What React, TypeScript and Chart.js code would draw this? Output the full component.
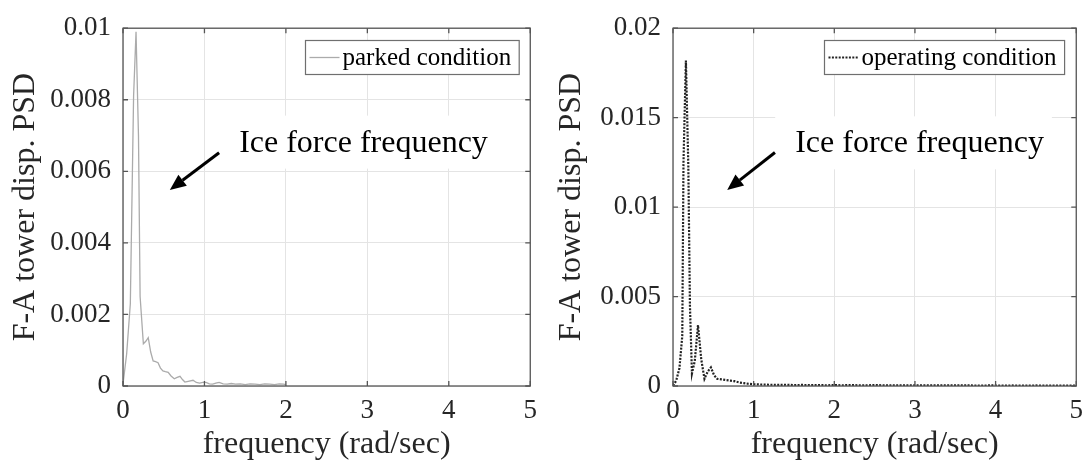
import React, { useEffect, useRef } from 'react';
import { Chart, registerables } from 'chart.js';

Chart.register(...registerables);

// ---------------- data ----------------
const parkedFreq = [0, 0.045, 0.09, 0.13, 0.16, 0.19, 0.21, 0.25, 0.28, 0.31, 0.34, 0.37, 0.40, 0.43, 0.46, 0.49, 0.52, 0.555, 0.59, 0.63, 0.665, 0.70, 0.73, 0.76, 0.80, 0.86, 0.90, 0.94, 0.98, 1.02, 1.06, 1.10, 1.14, 1.18, 1.23, 1.28, 1.33, 1.38, 1.44, 1.50, 1.56, 1.62, 1.68, 1.74, 1.80, 1.86, 1.92, 1.97, 2.00];
const parkedPsd = [0.00005, 0.0009, 0.0023, 0.0081, 0.0099, 0.0070, 0.0025, 0.00118, 0.00125, 0.00135, 0.00095, 0.0007, 0.00068, 0.00065, 0.0005, 0.00042, 0.0004, 0.00038, 0.00028, 0.0002, 0.00024, 0.00027, 0.00018, 0.00011, 0.00013, 0.00016, 0.0001, 0.00008, 0.0001, 0.0001, 0.00006, 0.00005, 0.00008, 0.0001, 0.00006, 0.00005, 0.00007, 0.00005, 0.00006, 0.00004, 0.00006, 0.00005, 0.00004, 0.00006, 0.00005, 0.00004, 0.00006, 0.00005, 0.00004];

const operatingFreq = [0, 0.04, 0.08, 0.115, 0.13, 0.16, 0.19, 0.21, 0.235, 0.27, 0.31, 0.35, 0.39, 0.43, 0.47, 0.51, 0.55, 0.60, 0.66, 0.71, 0.76, 0.82, 0.88, 0.94, 1.00, 1.1, 1.2, 1.3, 1.4, 1.5, 1.6, 1.7, 1.8, 1.9, 2.0, 2.1, 2.2, 2.3, 2.4, 2.5, 2.6, 2.7, 2.8, 2.9, 3.0, 3.1, 3.2, 3.3, 3.4, 3.5, 3.6, 3.7, 3.8, 3.9, 4.0, 4.1, 4.2, 4.3, 4.4, 4.5, 4.6, 4.7, 4.8, 4.9, 5.0];
const operatingPsd = [0.00002, 0.0003, 0.001, 0.0028, 0.0125, 0.0182, 0.0123, 0.0045, 0.0007, 0.0014, 0.0034, 0.0015, 0.0004, 0.0008, 0.00104, 0.0006, 0.0004, 0.00037, 0.00033, 0.0003, 0.00027, 0.0002, 0.00016, 0.00012, 0.0001, 0.00008, 0.00007, 0.00006, 0.00007, 0.00005, 0.00006, 0.00005, 0.00005, 0.00004, 0.00005, 0.00004, 0.00005, 0.00004, 0.00004, 0.00005, 0.00004, 0.00003, 0.00004, 0.00004, 0.00003, 0.00004, 0.00003, 0.00003, 0.00004, 0.00003, 0.00003, 0.00003, 0.00002, 0.00003, 0.00003, 0.00002, 0.00003, 0.00002, 0.00002, 0.00003, 0.00002, 0.00002, 0.00002, 0.00002, 0.00002];

const xTicks = [0, 1, 2, 3, 4, 5];
const xTickLabels = ['0', '1', '2', '3', '4', '5'];
const leftYTicks = [0, 0.002, 0.004, 0.006, 0.008, 0.01];
const leftYTickLabels = ['0', '0.002', '0.004', '0.006', '0.008', '0.01'];
const rightYTicks = [0, 0.005, 0.01, 0.015, 0.02];
const rightYTickLabels = ['0', '0.005', '0.01', '0.015', '0.02'];

const seriesNames = ['parked condition', 'operating condition'];
const xTitle = 'frequency (rad/sec)';
const yTitle = 'F-A tower disp. PSD';
const annotationText = 'Ice force frequency';

// annotation anchors in data units: [freq, psd]
const leftAnnotation = { textAt: [1.426, 0.00655], arrowFrom: [1.18, 0.00652], arrowTo: [0.575, 0.00548] };
const rightAnnotation = { textAt: [1.515, 0.01306], arrowFrom: [1.264, 0.01305], arrowTo: [0.672, 0.01096] };

// ---------------- styling ----------------
const FONT = "'Liberation Serif', 'Times New Roman', serif";
const TEXT_COLOR = '#262626';
const AXIS_COLOR = '#555555';
const GRID_COLOR = '#e4e4e4';

const decorPlugin = {
  id: 'decor',
  beforeDatasetsDraw(chart: any, _args: any, opts: any) {
    const { ctx, scales } = chart;
    const x = scales.x;
    const y = scales.y;
    ctx.save();
    ctx.font = `${opts.annFont}px ${FONT}`;
    const tx = x.getPixelForValue(opts.textAt[0]);
    const ty = y.getPixelForValue(opts.textAt[1]);
    const w = ctx.measureText(opts.text).width;
    ctx.fillStyle = '#ffffff';
    ctx.fillRect(tx - 20, ty - 36, w + 28, 53);
    ctx.fillStyle = '#000000';
    ctx.textAlign = 'left';
    ctx.textBaseline = 'alphabetic';
    ctx.fillText(opts.text, tx, ty);

    const ax0 = x.getPixelForValue(opts.arrowFrom[0]);
    const ay0 = y.getPixelForValue(opts.arrowFrom[1]);
    const ax1 = x.getPixelForValue(opts.arrowTo[0]);
    const ay1 = y.getPixelForValue(opts.arrowTo[1]);
    const ang = Math.atan2(ay1 - ay0, ax1 - ax0);
    const hl = 16;
    const hw = 7;
    const bx = ax1 - hl * Math.cos(ang);
    const by = ay1 - hl * Math.sin(ang);
    ctx.strokeStyle = '#000000';
    ctx.lineWidth = 3;
    ctx.beginPath();
    ctx.moveTo(ax0, ay0);
    ctx.lineTo(bx, by);
    ctx.stroke();
    ctx.beginPath();
    ctx.moveTo(ax1, ay1);
    ctx.lineTo(bx + hw * Math.sin(ang), by - hw * Math.cos(ang));
    ctx.lineTo(bx - hw * Math.sin(ang), by + hw * Math.cos(ang));
    ctx.closePath();
    ctx.fill();
    ctx.restore();
  },
  afterDatasetsDraw(chart: any, _args: any, opts: any) {
    const { ctx, chartArea, scales } = chart;
    const { left, right, top, bottom } = chartArea;
    const x = scales.x;
    const y = scales.y;
    ctx.save();
    ctx.strokeStyle = AXIS_COLOR;
    ctx.lineWidth = 1.3;
    ctx.strokeRect(left, top, right - left, bottom - top);
    const tl = 5;
    ctx.beginPath();
    x.ticks.forEach((t: any) => {
      const px = x.getPixelForValue(t.value);
      ctx.moveTo(px, bottom);
      ctx.lineTo(px, bottom - tl);
      ctx.moveTo(px, top);
      ctx.lineTo(px, top + tl);
    });
    y.ticks.forEach((t: any) => {
      const py = y.getPixelForValue(t.value);
      ctx.moveTo(left, py);
      ctx.lineTo(left + tl, py);
      ctx.moveTo(right, py);
      ctx.lineTo(right - tl, py);
    });
    ctx.stroke();

    // legend box
    const ds = chart.data.datasets[0];
    ctx.font = `${opts.legendFont}px ${FONT}`;
    const tw = ctx.measureText(ds.label).width;
    const padL = 4;
    const sampleW = 30;
    const gap = 3;
    const padR = 8;
    const boxW = padL + sampleW + gap + tw + padR;
    const boxH = 34;
    const lx = Math.round(right - 12 - boxW) + 0.5;
    const ly = Math.round(top + 12) + 0.5;
    ctx.fillStyle = '#ffffff';
    ctx.fillRect(lx, ly, boxW, boxH);
    ctx.strokeStyle = '#6f6f6f';
    ctx.lineWidth = 1.2;
    ctx.strokeRect(lx, ly, boxW, boxH);
    ctx.strokeStyle = ds.borderColor;
    ctx.lineWidth = ds.borderWidth;
    ctx.setLineDash(ds.borderDash || []);
    ctx.beginPath();
    ctx.moveTo(lx + padL, ly + boxH / 2);
    ctx.lineTo(lx + padL + sampleW, ly + boxH / 2);
    ctx.stroke();
    ctx.setLineDash([]);
    ctx.fillStyle = '#000000';
    ctx.textAlign = 'left';
    ctx.textBaseline = 'middle';
    ctx.fillText(ds.label, lx + padL + sampleW + gap, ly + boxH / 2 + 1);
    ctx.restore();
  },
};

function makeConfig(p: any) {
  return {
    type: 'line',
    data: {
      datasets: [
        {
          label: p.label,
          data: p.freq.map((f: number, i: number) => ({ x: f, y: p.psd[i] })),
          borderColor: p.color,
          borderWidth: p.width,
          borderDash: p.dash,
          pointRadius: 0,
          tension: 0,
          fill: false,
        },
      ],
    },
    options: {
      animation: false,
      responsive: false,
      maintainAspectRatio: false,
      layout: { padding: { left: 0, right: p.padRight, top: 19, bottom: 0 } },
      plugins: {
        legend: { display: false },
        tooltip: { enabled: false },
        decor: { ...p.annotation, text: annotationText, annFont: 32, legendFont: 25 },
      },
      scales: {
        x: {
          type: 'linear',
          min: 0,
          max: 5,
          afterBuildTicks: (s: any) => {
            s.ticks = xTicks.map((v) => ({ value: v }));
          },
          afterFit: (s: any) => {
            s.height = 81;
          },
          grid: { color: GRID_COLOR, drawTicks: false, lineWidth: 1 },
          border: { display: false },
          ticks: {
            autoSkip: false,
            maxRotation: 0,
            padding: 9,
            color: TEXT_COLOR,
            font: { family: FONT, size: 27 },
            callback: (_v: any, i: number) => xTickLabels[i],
          },
          title: {
            display: true,
            text: xTitle,
            color: TEXT_COLOR,
            font: { family: FONT, size: 32, lineHeight: 1.2 },
            padding: { top: 0, bottom: 3 },
          },
        },
        y: {
          type: 'linear',
          min: 0,
          max: p.yMax,
          afterBuildTicks: (s: any) => {
            s.ticks = p.yTicks.map((v: number) => ({ value: v }));
          },
          afterFit: (s: any) => {
            s.width = p.yWidth;
          },
          grid: { color: GRID_COLOR, drawTicks: false, lineWidth: 1 },
          border: { display: false },
          ticks: {
            autoSkip: false,
            padding: 12,
            color: TEXT_COLOR,
            font: { family: FONT, size: 27 },
            callback: (_v: any, i: number) => p.yTickLabels[i],
          },
          title: {
            display: true,
            text: yTitle,
            color: TEXT_COLOR,
            font: { family: FONT, size: 32, lineHeight: 1.2 },
            padding: { top: 6, bottom: 0 },
          },
        },
      },
    },
    plugins: [decorPlugin],
  };
}

function PsdChart({ params, left }: { params: any; left: number }) {
  const ref = useRef<HTMLCanvasElement | null>(null);
  useEffect(() => {
    if (!ref.current) return;
    const chart = new Chart(ref.current, makeConfig(params) as any);
    return () => chart.destroy();
  }, [params]);
  return (
    <canvas
      ref={ref}
      width={546}
      height={467}
      style={{ position: 'absolute', left, top: 0, width: 546, height: 467 }}
    />
  );
}

const leftParams = {
  label: seriesNames[0],
  freq: parkedFreq,
  psd: parkedPsd,
  color: '#ababab',
  width: 1.3,
  dash: [],
  yMax: 0.01,
  yTicks: leftYTicks,
  yTickLabels: leftYTickLabels,
  yWidth: 123,
  padRight: 12,
  annotation: leftAnnotation,
};

const rightParams = {
  label: seriesNames[1],
  freq: operatingFreq,
  psd: operatingPsd,
  color: '#222222',
  width: 2.2,
  dash: [2, 1.4],
  yMax: 0.02,
  yTicks: rightYTicks,
  yTickLabels: rightYTickLabels,
  yWidth: 127,
  padRight: 8,
  annotation: rightAnnotation,
};

export default function App() {
  return (
    <div style={{ position: 'fixed', left: 0, top: 0, width: 1092, height: 467, background: '#ffffff' }}>
      <PsdChart params={leftParams} left={0} />
      <PsdChart params={rightParams} left={546} />
    </div>
  );
}
